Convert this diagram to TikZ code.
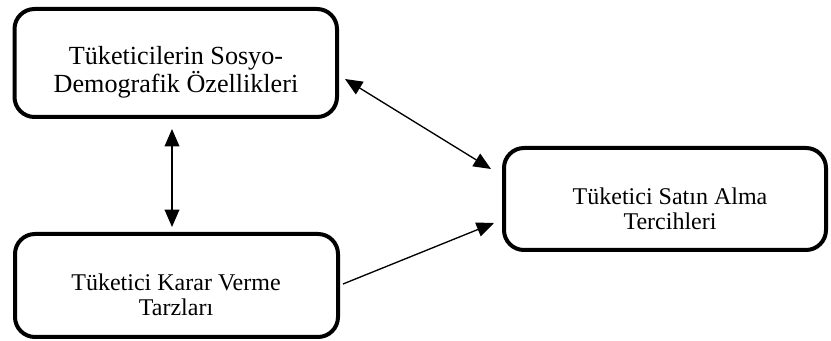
\documentclass[tikz,border=0pt]{standalone}
\usepackage{fontspec}
\setmainfont{Liberation Serif}
\usetikzlibrary{arrows.meta}
\begin{document}
\begin{tikzpicture}[x=0.75pt,y=-0.75pt,
  box/.style={draw,line width=3pt,rounded corners=15pt,inner sep=0pt},
  txt/.style={align=center,inner sep=0pt,font=\fontsize{18}{18.8}\selectfont},
  bigtxt/.style={align=center,inner sep=0pt,font=\fontsize{19.6}{19.8}\selectfont},
  conn/.style={line width=1pt,{Triangle[length=13pt,width=11pt]}-{Triangle[length=13pt,width=11pt]}},
  oneway/.style={line width=1pt,-{Triangle[length=13pt,width=11pt]}}]
\useasboundingbox (0,0) rectangle (831,341);
\node[box,minimum width=322.5*0.75pt,minimum height=108*0.75pt] (soc) at (175.75,63) {};
\node[box,minimum width=323*0.75pt,minimum height=103*0.75pt] (kar) at (176.5,285.5) {};
\node[box,minimum width=322*0.75pt,minimum height=102*0.75pt] (sat) at (665,199) {};
\node[bigtxt] (soct) at (176,72) {Tüketicilerin Sosyo-\\Demografik Özellikleri};
\node[txt] (kart) at (176,295) {Tüketici Karar Verme\\Tarzları};
\node[txt] (satt) at (670,208.5) {Tüketici Satın Alma\\Tercihleri};
\coordinate (a1) at (345,79);
\coordinate (a2) at (491,169);
\coordinate (v1) at (172,129);
\coordinate (v2) at (172,227);
\coordinate (b1) at (343,284);
\coordinate (b2) at (494,223);
\draw[conn] (a1) -- (a2);
\draw[conn] (v1) -- (v2);
\draw[oneway] (b1) -- (b2);
\end{tikzpicture}
\end{document}
